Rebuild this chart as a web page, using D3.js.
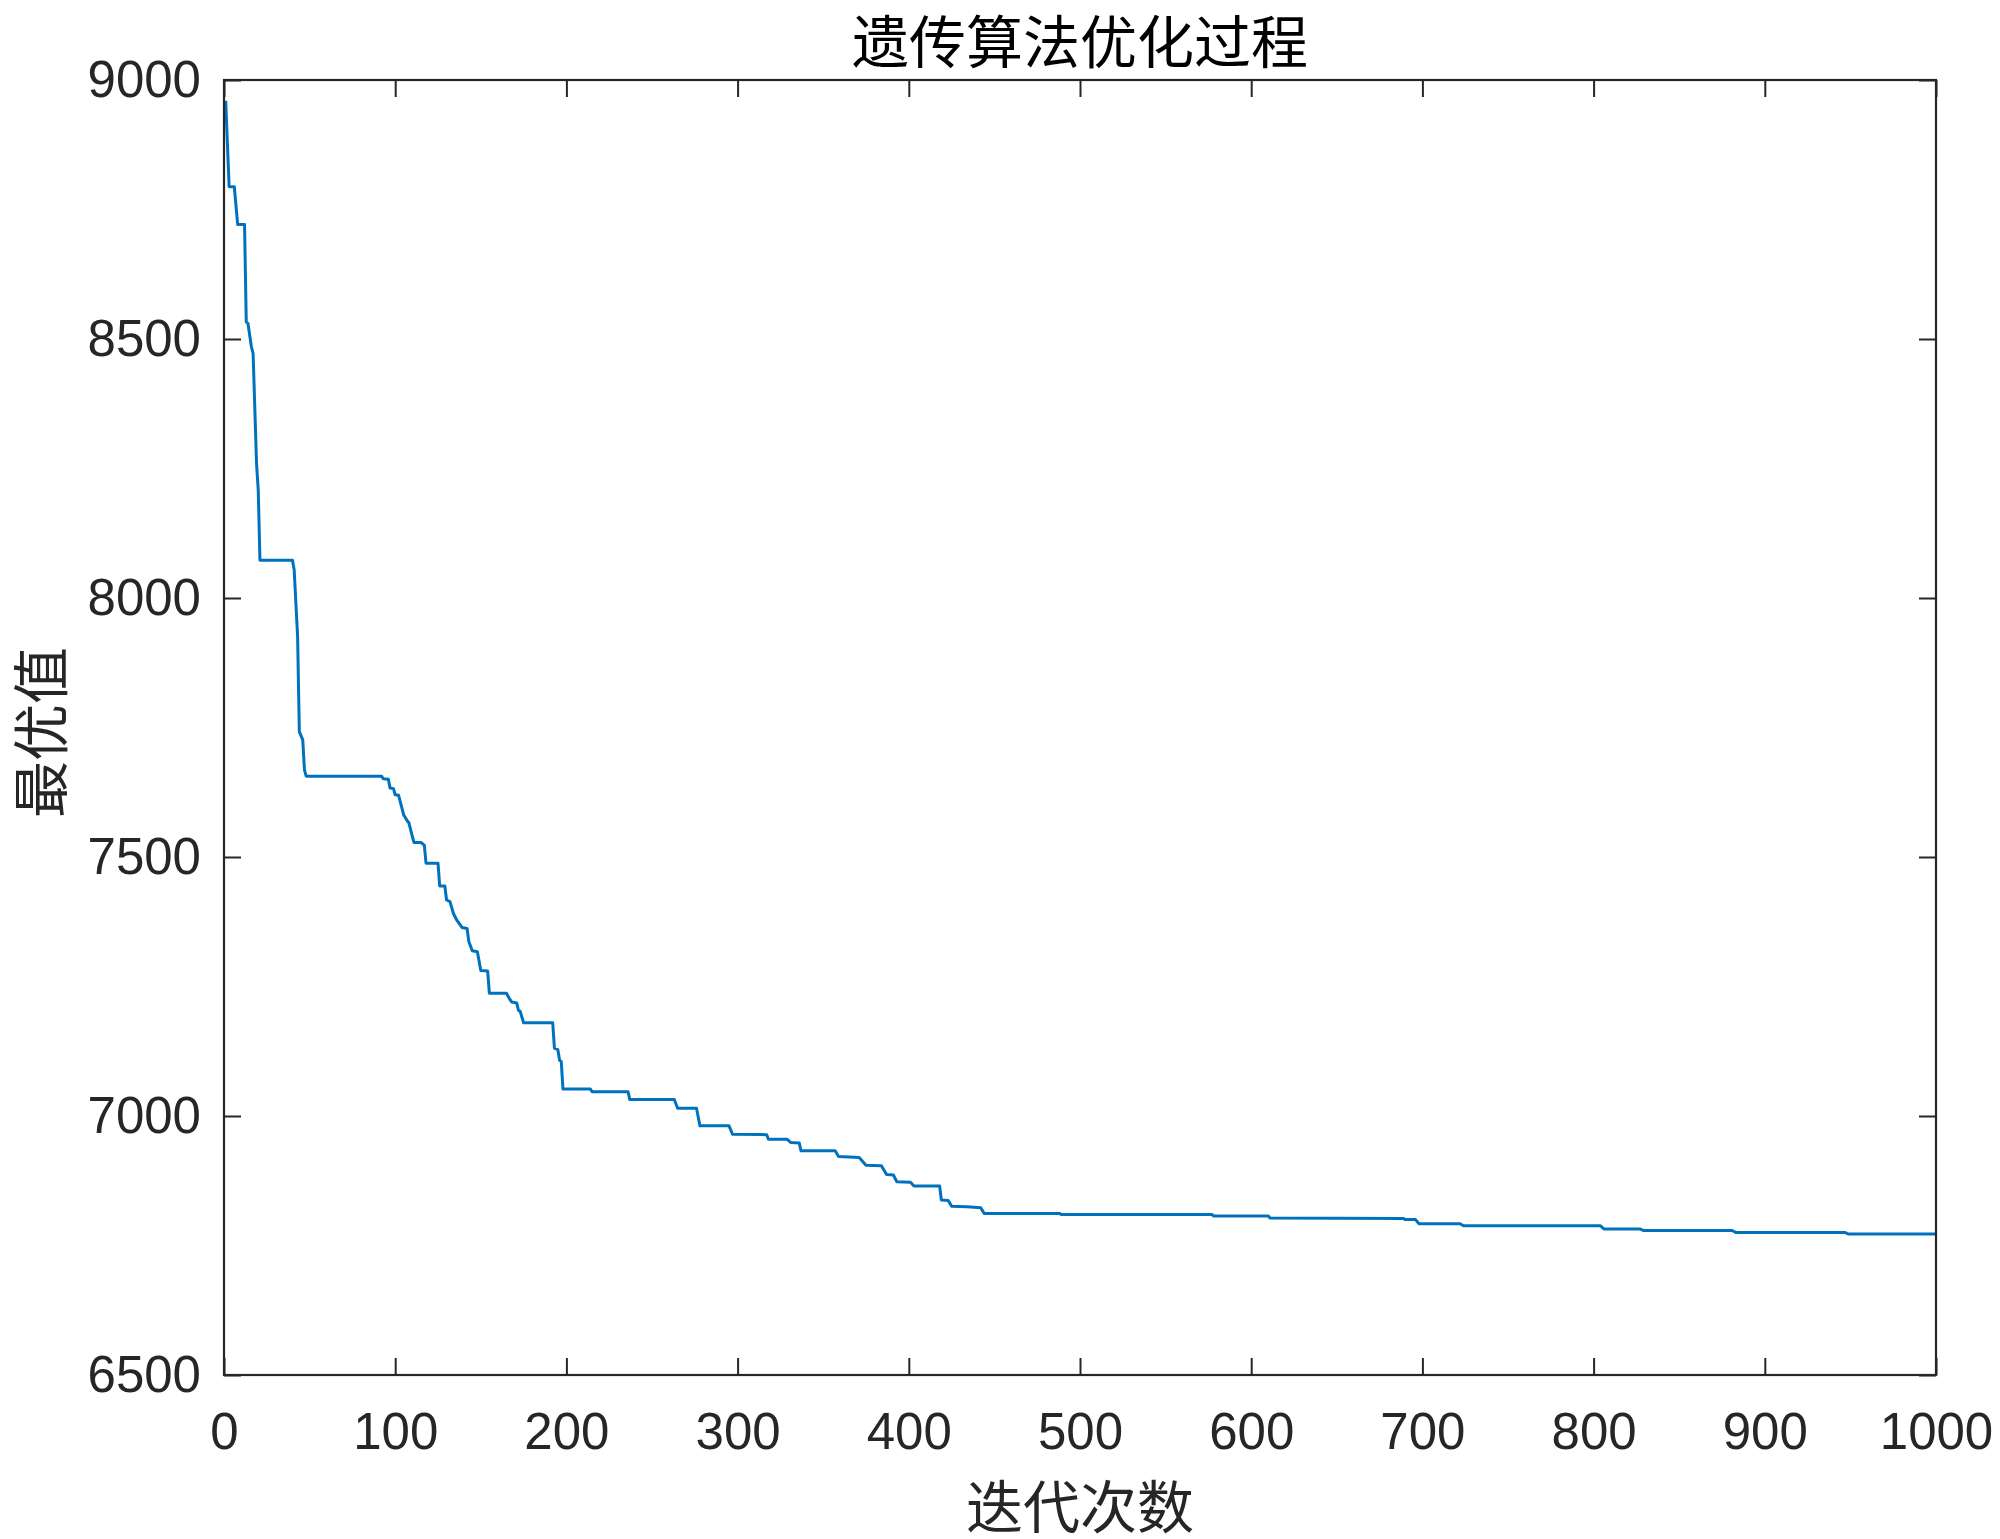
<!DOCTYPE html>
<html>
<head>
<meta charset="utf-8">
<script src="https://cdn.jsdelivr.net/npm/d3@7"></script>
<style>
  html, body { margin: 0; padding: 0; background: #fff; }
  svg { display: block; }
</style>
</head>
<body>
<svg id="chart" width="2000" height="1539"></svg>
<script>
// ---- data ----
const titleText = "遗传算法优化过程";
const xLabelText = "迭代次数";
const yLabelText = "最优值";
const xTicks = [0, 100, 200, 300, 400, 500, 600, 700, 800, 900, 1000];
const yTicks = [6500, 7000, 7500, 8000, 8500, 9000];
// breakpoints of the best-value curve (iteration, value)
const iterations = [1,3,6,8,12,13,14,16,17,19,20,21,40,41,43,44,46,47,48,92,93,96,97,99,100,102,105,107,108,110,111,115,117,118,125,126,129,130,132,134,136,139,142,143,145,148,150,154,155,165,167,168,171,172,173,175,192,193,195,196,197,198,214,215,236,237,263,265,276,278,295,297,317,318,329,331,336,337,357,359,371,375,384,387,391,393,401,403,418,419,423,425,434,442,444,488,489,577,578,610,611,689,690,696,698,722,724,804,806,827,829,881,883,947,949,1000];
const bestValues = [8960,8794,8794,8721,8721,8533,8530,8485,8472,8260,8208,8073,8073,8054,7925,7742,7726,7668,7656,7656,7651,7650,7633,7632,7620,7619,7581,7570,7566,7540,7528,7528,7523,7488,7488,7444,7444,7417,7414,7391,7378,7364,7362,7337,7319,7317,7281,7280,7237,7237,7225,7220,7218,7204,7202,7180,7180,7131,7128,7108,7105,7052,7052,7047,7047,7032,7032,7015,7015,6981,6981,6965,6964,6955,6955,6949,6948,6933,6933,6922,6920,6905,6904,6887,6886,6873,6872,6865,6865,6838,6837,6826,6825,6823,6812,6812,6810,6810,6807,6807,6803,6802,6800,6800,6792,6792,6788,6788,6782,6782,6779,6779,6775,6775,6772,6772];

// ---- layout ----
const L = 224, R = 1936, T = 80, B = 1375;
const axisColor = "#262626";
const lineColor = "#0072BD";
const tickLen = 17;

const svg = d3.select("#chart");
const x = d3.scaleLinear().domain([0, 1000]).range([L, R]);
const y = d3.scaleLinear().domain([6500, 9000]).range([B, T]);

const data = iterations.map((d, i) => ({ it: d, v: bestValues[i] }));

// curve
svg.append("path")
  .datum(data)
  .attr("fill", "none")
  .attr("stroke", lineColor)
  .attr("stroke-width", 3)
  .attr("stroke-linejoin", "round")
  .attr("d", d3.line().x(d => x(d.it)).y(d => y(d.v)));

function styleAxis(g) {
  g.select(".domain").remove();
  g.selectAll(".tick line").attr("stroke", axisColor).attr("stroke-width", 2);
  g.selectAll(".tick text")
    .attr("fill", axisColor)
    .style("font-family", "'Liberation Sans', Arial, Helvetica, sans-serif")
    .style("font-size", "51px");
}

// bottom
svg.append("g").attr("transform", `translate(0,${B})`)
  .call(d3.axisBottom(x).tickValues(xTicks).tickFormat(d3.format("d")).tickSizeInner(-tickLen).tickSizeOuter(0).tickPadding(38))
  .call(styleAxis);
// top
svg.append("g").attr("transform", `translate(0,${T})`)
  .call(d3.axisTop(x).tickValues(xTicks).tickFormat("").tickSizeInner(-tickLen).tickSizeOuter(0))
  .call(styleAxis);
// left
svg.append("g").attr("transform", `translate(${L},0)`)
  .call(d3.axisLeft(y).tickValues(yTicks).tickFormat(d3.format("d")).tickSizeInner(-tickLen).tickSizeOuter(0).tickPadding(23))
  .call(styleAxis);
// right
svg.append("g").attr("transform", `translate(${R},0)`)
  .call(d3.axisRight(y).tickValues(yTicks).tickFormat("").tickSizeInner(-tickLen).tickSizeOuter(0))
  .call(styleAxis);

// box
svg.append("rect")
  .attr("x", L).attr("y", T).attr("width", R - L).attr("height", B - T)
  .attr("fill", "none").attr("stroke", axisColor).attr("stroke-width", 2.2);

const cjk = "'Noto Sans CJK SC', 'Noto Sans CJK JP', sans-serif";
// title
svg.append("text")
  .attr("x", (L + R) / 2).attr("y", 38)
  .attr("text-anchor", "middle").attr("dominant-baseline", "central")
  .style("font-family", cjk).style("font-size", "57px").attr("fill", "#000")
  .text(titleText);
// x label
svg.append("text")
  .attr("x", (L + R) / 2).attr("y", 1503)
  .attr("text-anchor", "middle").attr("dominant-baseline", "central")
  .style("font-family", cjk).style("font-size", "57px").attr("fill", "#262626")
  .text(xLabelText);
// y label
svg.append("text")
  .attr("transform", `translate(37,${(T + B) / 2 + 5}) rotate(-90)`)
  .attr("text-anchor", "middle").attr("dominant-baseline", "central")
  .style("font-family", cjk).style("font-size", "57px").attr("fill", "#262626")
  .text(yLabelText);
</script>
</body>
</html>
